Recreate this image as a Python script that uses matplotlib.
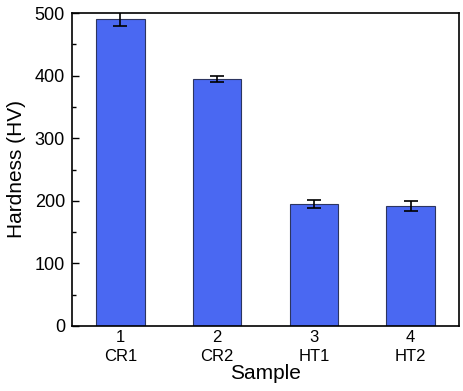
import matplotlib
matplotlib.use("Agg")
import matplotlib.pyplot as plt
from matplotlib.ticker import MultipleLocator

plt.rcParams['font.family'] = ['Liberation Sans', 'DejaVu Sans']

positions = [1, 2, 3, 4]
samples = ["CR1", "CR2", "HT1", "HT2"]
hardness = [490, 395, 195, 192]
errors = [11, 5, 7, 8]

fig = plt.figure(figsize=(4.64, 3.91), dpi=100)
ax = fig.add_axes([72/464, 1-326/391, (459-72)/464, (326-13)/391])

ax.bar(positions, hardness, width=0.5, color='#4a68f2', edgecolor='#2c3560', linewidth=0.8,
       yerr=errors, capsize=5, error_kw=dict(ecolor='black', elinewidth=1.2, capthick=1.2), zorder=2)

ax.set_xlim(0.5, 4.5)
ax.set_ylim(0, 500)
ax.yaxis.set_major_locator(MultipleLocator(100))
ax.yaxis.set_minor_locator(MultipleLocator(50))
ax.tick_params(axis='y', which='major', direction='in', length=5, width=1, labelsize=13, pad=5)
ax.tick_params(axis='y', which='minor', direction='in', length=3, width=1)
ax.set_xticks(positions)
ax.set_xticklabels([f"{p}\n{s}" for p, s in zip(positions, samples)], fontsize=12, linespacing=1.3)
ax.tick_params(axis='x', length=0, pad=3)
for sp in ax.spines.values():
    sp.set_linewidth(1.2)
ax.set_ylabel("Hardness (HV)", fontsize=15, labelpad=6)
ax.set_xlabel("Sample", fontsize=15, labelpad=0)

fig.savefig("out.png", dpi=100)
